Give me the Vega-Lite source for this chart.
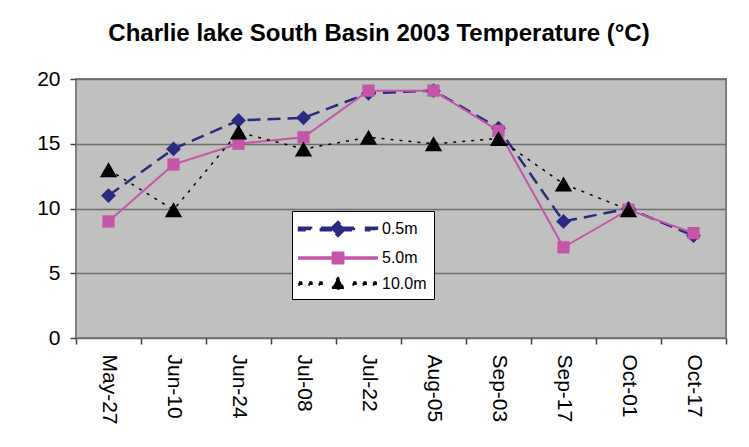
{
  "$schema": "https://vega.github.io/schema/vega-lite/v6.json",
  "width": 650,
  "height": 259,
  "autosize": {"type": "none"},
  "padding": {"left": 76, "top": 79, "right": 23, "bottom": 109},
  "background": "white",
  "title": {
    "text": "Charlie lake South Basin 2003 Temperature (°C)",
    "font": "Liberation Sans",
    "fontSize": 24,
    "fontWeight": "bold",
    "color": "black",
    "anchor": "middle",
    "baseline": "alphabetic",
    "offset": 36,
    "dx": -22,
    "dy": 33
  },
  "data": {
    "values": [
      {"date": "May-27", "series": "0.5m", "temp": 11.0},
      {"date": "Jun-10", "series": "0.5m", "temp": 14.6},
      {"date": "Jun-24", "series": "0.5m", "temp": 16.8},
      {"date": "Jul-08", "series": "0.5m", "temp": 17.0},
      {"date": "Jul-22", "series": "0.5m", "temp": 18.9},
      {"date": "Aug-05", "series": "0.5m", "temp": 19.1},
      {"date": "Sep-03", "series": "0.5m", "temp": 16.2},
      {"date": "Sep-17", "series": "0.5m", "temp": 9.0},
      {"date": "Oct-01", "series": "0.5m", "temp": 10.0},
      {"date": "Oct-17", "series": "0.5m", "temp": 7.9},
      {"date": "May-27", "series": "5.0m", "temp": 9.0},
      {"date": "Jun-10", "series": "5.0m", "temp": 13.4},
      {"date": "Jun-24", "series": "5.0m", "temp": 15.0},
      {"date": "Jul-08", "series": "5.0m", "temp": 15.5},
      {"date": "Jul-22", "series": "5.0m", "temp": 19.1},
      {"date": "Aug-05", "series": "5.0m", "temp": 19.1},
      {"date": "Sep-03", "series": "5.0m", "temp": 16.0},
      {"date": "Sep-17", "series": "5.0m", "temp": 7.0},
      {"date": "Oct-01", "series": "5.0m", "temp": 9.9},
      {"date": "Oct-17", "series": "5.0m", "temp": 8.1},
      {"date": "May-27", "series": "10.0m", "temp": 13.0},
      {"date": "Jun-10", "series": "10.0m", "temp": 9.9},
      {"date": "Jun-24", "series": "10.0m", "temp": 15.9},
      {"date": "Jul-08", "series": "10.0m", "temp": 14.6},
      {"date": "Jul-22", "series": "10.0m", "temp": 15.5},
      {"date": "Aug-05", "series": "10.0m", "temp": 15.0},
      {"date": "Sep-03", "series": "10.0m", "temp": 15.4},
      {"date": "Sep-17", "series": "10.0m", "temp": 11.9},
      {"date": "Oct-01", "series": "10.0m", "temp": 9.9}
    ]
  },
  "encoding": {
    "x": {
      "field": "date",
      "type": "nominal",
      "sort": null,
      "scale": {"paddingInner": 0, "paddingOuter": 0},
      "axis": {
        "title": null,
        "labelAngle": 90,
        "labelAlign": "left",
        "labelBaseline": "middle",
        "labelFont": "Liberation Sans",
        "labelFontSize": 21,
        "labelColor": "black",
        "labelPadding": 10,
        "tickBand": "extent",
        "ticks": true,
        "tickSize": 6,
        "tickColor": "#404040",
        "tickWidth": 1.5,
        "domain": false,
        "grid": false
      }
    },
    "y": {
      "field": "temp",
      "type": "quantitative",
      "scale": {"domain": [0, 20], "nice": false},
      "axis": {
        "title": null,
        "values": [0, 5, 10, 15, 20],
        "labelFont": "Liberation Sans",
        "labelFontSize": 21,
        "labelColor": "black",
        "labelPadding": 10,
        "tickSize": 6,
        "tickColor": "#404040",
        "tickWidth": 1.5,
        "domainColor": "#808080",
        "grid": true,
        "gridColor": "#6e6e6e",
        "gridWidth": 1.5
      }
    }
  },
  "layer": [
    {
      "mark": {"type": "line", "strokeCap": "butt"},
      "encoding": {
        "color": {
          "field": "series",
          "type": "nominal",
          "sort": null,
          "scale": {"domain": ["0.5m", "5.0m", "10.0m"], "range": ["#2a2a80", "#c455a8", "#000000"]},
          "legend": {
            "title": null,
            "orient": "none",
            "legendX": 216,
            "legendY": 132,
            "fillColor": "white",
            "strokeColor": "black",
            "padding": 7,
            "symbolSize": 400,
            "rowPadding": 5,
            "labelFont": "Liberation Sans",
            "labelFontSize": 16,
            "labelColor": "black",
            "encode": {
              "symbols": {
                "update": {
                  "x": {"value": 39},
                  "size": {"value": 380},
                  "shape": {"signal": "datum.value === '0.5m' ? 'M-4,-0.128L-2.76,-0.128L-2.76,0.128L-4,0.128Z M-1.76,-0.128L1.76,-0.128L1.76,0.128L-1.76,0.128Z M2.88,-0.128L4,-0.128L4,0.128L2.88,0.128Z M-0.72,0L0,-0.72L0.72,0L0,0.72Z' : datum.value === '5.0m' ? 'M-4,-0.08L4,-0.08L4,0.08L-4,0.08Z M-0.56,-0.56L0.56,-0.56L0.56,0.56L-0.56,0.56Z' : 'M-4,-0.152L-3.64,-0.152L-3.64,0.152L-4,0.152Z M-2.96,-0.152L-2.6,-0.152L-2.6,0.152L-2.96,0.152Z M-1.92,-0.152L-1.56,-0.152L-1.56,0.152L-1.92,0.152Z M1.56,-0.152L1.92,-0.152L1.92,0.152L1.56,0.152Z M2.6,-0.152L2.96,-0.152L2.96,0.152L2.6,0.152Z M3.64,-0.152L4,-0.152L4,0.152L3.64,0.152Z M0,-0.68L0.64,0.56L-0.64,0.56Z'"},
                  "fill": {"signal": "datum.value === '0.5m' ? '#2a2a80' : datum.value === '5.0m' ? '#c455a8' : '#000000'"},
                  "fillOpacity": {"value": 1},
                  "opacity": {"value": 1},
                  "strokeWidth": {"value": 0}
                }
              },
              "labels": {
                "update": {
                  "x": {"value": 83}
                }
              }
            }
          }
        },
        "strokeDash": {
          "field": "series",
          "type": "nominal",
          "sort": null,
          "scale": {"domain": ["0.5m", "5.0m", "10.0m"], "range": [[13, 7], [1, 0], [3, 6]]},
          "legend": null
        },
        "strokeWidth": {
          "field": "series",
          "type": "nominal",
          "sort": null,
          "scale": {"domain": ["0.5m", "5.0m", "10.0m"], "range": [2.5, 1.5, 3]},
          "legend": null
        }
      }
    },
    {
      "transform": [{"filter": "datum.series === '0.5m'"}],
      "mark": {"type": "point", "filled": true, "opacity": 1, "shape": "diamond", "size": 220},
      "encoding": {
        "color": {"field": "series", "type": "nominal", "sort": null, "legend": null}
      }
    },
    {
      "transform": [{"filter": "datum.series === '5.0m'"}],
      "mark": {"type": "point", "filled": true, "opacity": 1, "shape": "square", "size": 150},
      "encoding": {
        "color": {"field": "series", "type": "nominal", "sort": null, "legend": null}
      }
    },
    {
      "transform": [{"filter": "datum.series === '10.0m'"}],
      "mark": {"type": "point", "filled": true, "opacity": 1, "shape": "triangle-up", "size": 300},
      "encoding": {
        "color": {"field": "series", "type": "nominal", "sort": null, "legend": null}
      }
    }
  ],
  "config": {
    "view": {"fill": "#c0c0c0", "stroke": "#808080", "strokeWidth": 2}
  }
}
